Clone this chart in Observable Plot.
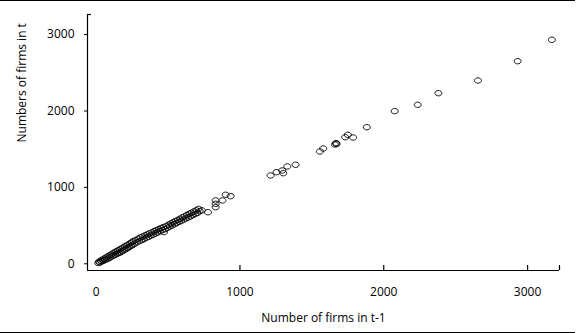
<!DOCTYPE html>
<html>
<head>
<meta charset="utf-8">
<script src="https://cdn.jsdelivr.net/npm/d3@7"></script>
<script src="https://cdn.jsdelivr.net/npm/@observablehq/plot@0.6"></script>
<style>
  html, body { margin: 0; padding: 0; background: #fff; }
  #frame { width: 575px; border-top: 1px solid #000; border-bottom: 1px solid #000; }
  #frame svg { display: block; }
</style>
</head>
<body>
<div id="frame"></div>
<script>
// ---- data ----
const firmsPrev = [
  15, 20, 26, 32, 38, 44, 50, 56, 62, 68, 74, 80, 86, 92, 98,
  104, 110, 116, 122, 128, 134, 140, 146, 152, 158, 164, 170, 176, 182, 188, 194,
  200, 206, 212, 218, 224, 230, 236, 242, 248, 254, 260, 268, 276, 284, 292, 300,
  308, 316, 324, 332, 340, 348, 356, 364, 372, 380, 388, 396,
  404, 412, 420, 428, 436, 444, 452, 460, 472, 468, 478, 488, 496,
  504, 512, 520, 528, 536, 544, 552, 560, 568, 576, 584, 592,
  600, 608, 616, 624, 632, 640, 648, 656, 664, 672, 680, 688, 696,
  704, 712, 720, 735, 778,
  831, 831, 831, 878, 901, 935,
  1213, 1254, 1294, 1301, 1329, 1387,
  1556, 1579, 1660, 1668, 1672, 1732, 1750, 1787, 1882, 2076, 2236, 2380, 2655, 2931, 3169
];
const firmsNow = [
  10, 28, 16, 40, 30, 55, 38, 68, 50, 82, 60, 95, 70, 108, 84,
  120, 98, 135, 108, 150, 118, 162, 132, 175, 140, 188, 150, 200, 165, 212, 178,
  228, 190, 240, 205, 252, 218, 268, 232, 282, 246, 298, 262, 310, 280, 328, 296,
  345, 310, 358, 322, 372, 340, 385, 352, 398, 368, 412, 380,
  428, 396, 440, 410, 455, 425, 468, 440, 414, 480, 452, 495, 470,
  512, 488, 528, 500, 545, 518, 560, 532, 575, 548, 590, 562,
  608, 578, 622, 592, 640, 605, 655, 620, 668, 638, 685, 650, 700,
  665, 718, 688, 700, 675,
  741, 785, 829, 829, 903, 885,
  1156, 1199, 1221, 1186, 1274, 1296,
  1470, 1509, 1562, 1580, 1568, 1657, 1688, 1653, 1788, 1998, 2081, 2233, 2399, 2652, 2932
];
const xTicks = [0, 1000, 2000, 3000];
const yTicks = [0, 1000, 2000, 3000];
const xDomain = [-60, 3222];
const yDomain = [-88, 3263];
const xTitle = "Number of firms in t-1";
const yTitle = "Numbers of firms in t";

const points = firmsPrev.map((x, i) => ({x, y: firmsNow[i]}));

// open ellipse marker
const ellipse = {
  draw(ctx) {
    const rx = 3.5, ry = 2.7, k = 0.5523;
    ctx.moveTo(rx, 0);
    ctx.bezierCurveTo(rx, k * ry, k * rx, ry, 0, ry);
    ctx.bezierCurveTo(-k * rx, ry, -rx, k * ry, -rx, 0);
    ctx.bezierCurveTo(-rx, -k * ry, -k * rx, -ry, 0, -ry);
    ctx.bezierCurveTo(k * rx, -ry, rx, -k * ry, rx, 0);
    ctx.closePath();
  }
};

const W = 575, H = 331;
const mL = 87, mR = 16, mT = 13, mB = 62;
const plotW = W - mL - mR, plotH = H - mT - mB;
const fmt = d3.format("d");

const chart = Plot.plot({
  width: W,
  height: H,
  marginLeft: mL,
  marginRight: mR,
  marginTop: mT,
  marginBottom: mB,
  x: {domain: xDomain, axis: null},
  y: {domain: yDomain, axis: null},
  style: {fontFamily: "'Open Sans', sans-serif", fontSize: "12px", color: "#000", background: "#fff"},
  marks: [
    Plot.ruleX([xDomain[0]], {stroke: "#000", strokeWidth: 1.2}),
    Plot.ruleY([yDomain[0]], {stroke: "#000", strokeWidth: 1.2}),
    Plot.axisY(yTicks, {anchor: "left", tickSize: 3, tickPadding: 10, label: null, fontSize: 12, tickFormat: fmt}),
    Plot.axisX(xTicks, {anchor: "bottom", tickSize: 0, tickPadding: 17, label: null, fontSize: 12, tickFormat: fmt}),
    Plot.tickX(xTicks.filter(d => d > 0).concat([xDomain[1]]), {x: d => d, stroke: "#000", strokeWidth: 1.2, insetTop: plotH - 5}),
    Plot.tickY([yDomain[1]], {y: d => d, stroke: "#000", strokeWidth: 1.2, insetRight: plotW - 4}),
    Plot.dot(points, {x: "x", y: "y", symbol: ellipse, stroke: "#000", strokeWidth: 0.9, fill: "none"}),
    Plot.text([xTitle], {frameAnchor: "bottom", dy: 48, text: d => d, lineAnchor: "middle", fontSize: 12}),
    Plot.text([yTitle], {frameAnchor: "left", dx: -65, rotate: -90, text: d => d, lineAnchor: "middle", fontSize: 12})
  ]
});
document.getElementById("frame").appendChild(chart);
</script>
</body>
</html>
